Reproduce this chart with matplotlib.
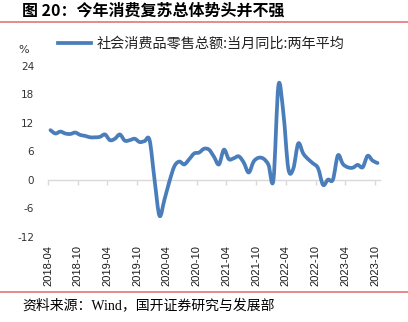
import numpy as np
import matplotlib.pyplot as plt
from matplotlib.path import Path
from matplotlib.patches import PathPatch
from matplotlib.lines import Line2D

plt.rcParams['font.family'] = ['Noto Sans CJK SC', 'DejaVu Sans']

# 社会消费品零售总额:当月同比:两年平均 (%), monthly 2018-04 .. 2023-10
months = []
for yr in range(2018, 2024):
    for mo in range(1, 13):
        if (yr, mo) >= (2018, 4) and (yr, mo) <= (2023, 10):
            months.append(f"{yr}-{mo:02d}")

values = [
    10.4, 9.7, 10.1, 9.7, 9.6, 9.9, 9.4, 9.2, 8.9,            # 2018-04 .. 2018-12
    8.9, 9.0, 9.5, 8.3, 8.6, 9.5, 8.2, 8.3, 8.6, 7.9, 8.1, 8.3,  # 2019
    0.0, -7.6, -4.2, -0.4, 2.8, 3.8, 3.2, 4.3, 5.5, 5.7, 6.5, 6.3,  # 2020
    4.8, 3.2, 6.3, 4.3, 4.5, 4.9, 3.6, 1.5, 3.8, 4.6, 4.4, 3.1,  # 2021
    0.0, 19.8, 14.0, 2.3, 2.3, 7.6, 5.5, 4.3, 3.4, 2.4, -1.1, 0.0,  # 2022
    0.0, 5.1, 3.3, 2.6, 2.5, 3.1, 2.6, 5.0, 4.0, 3.5,            # 2023-01 .. 2023-10
]

series_name = "社会消费品零售总额:当月同比:两年平均"
yticks = [-12, -6, 0, 6, 12, 18, 24]
tick_idx = list(range(0, len(months), 6))
line_color = "#4A7EBB"

fig = plt.figure(figsize=(4.08, 3.22), dpi=100)
ax = fig.add_axes([48 / 408, 1 - 236.7 / 322, 332 / 408, (236.7 - 65.5) / 322])

# smoothed line (cubic bezier through every month, like a spreadsheet "smooth line")
x = np.arange(len(values), dtype=float)
y = np.array(values, dtype=float)
verts = [(x[0], y[0])]
codes = [Path.MOVETO]
for i in range(len(x) - 1):
    p0 = np.array([x[max(i - 1, 0)], y[max(i - 1, 0)]])
    p1 = np.array([x[i], y[i]])
    p2 = np.array([x[i + 1], y[i + 1]])
    p3 = np.array([x[min(i + 2, len(x) - 1)], y[min(i + 2, len(x) - 1)]])
    c1 = p1 + (p2 - p0) / 6
    c2 = p2 - (p3 - p1) / 6
    verts += [tuple(c1), tuple(c2), tuple(p2)]
    codes += [Path.CURVE4] * 3
ax.add_patch(PathPatch(Path(verts, codes), facecolor="none", edgecolor=line_color,
                       lw=2.7, capstyle="round", joinstyle="round", zorder=3))
# legend proxy
ax.plot([], [], color=line_color, lw=2.7, label=series_name)

ax.set_xlim(-0.5, len(values) - 0.5)
ax.set_ylim(-12, 24)
ax.set_yticks(yticks)
ax.set_yticklabels([str(v) for v in yticks], family="DejaVu Sans", fontsize=7.5, color="#333333")
ax.tick_params(axis="y", length=0, pad=10)

for s in ["top", "right", "left"]:
    ax.spines[s].set_visible(False)
ax.spines["bottom"].set_position(("data", 0))
ax.spines["bottom"].set_color("#D9D9D9")
ax.spines["bottom"].set_linewidth(1.0)
ax.set_xticks([i - 0.5 for i in tick_idx])
ax.tick_params(axis="x", length=3.5, width=1.0, color="#D9D9D9", labelbottom=False)

# date labels sit below the plot area
for i in tick_idx:
    ax.annotate(months[i], xy=(i - 0.5, 0), xycoords=("data", "axes fraction"),
                xytext=(0, -6), textcoords="offset points", rotation=90,
                ha="center", va="top", fontsize=8, family="Liberation Sans", color="#1a1a1a")

fig.legend(loc="center left", bbox_to_anchor=(58 / 408, 1 - 44 / 322), frameon=False,
           fontsize=10.2, handlelength=2.3, handletextpad=0.4, borderpad=0, borderaxespad=0,
           labelcolor="#222222")

fig.text(24 / 408, 1 - 50 / 322, "%", fontsize=8, ha="center", va="center",
         family="DejaVu Sans", color="#333333")

fig.text(22 / 408, 1 - 11 / 322, "图 20：今年消费复苏总体势头并不强", fontsize=11.5,
         fontweight="bold", ha="left", va="center")
fig.text(22 / 408, 1 - 305 / 322, "资料来源：Wind，国开证券研究与发展部", fontsize=10,
         family=["Liberation Serif", "Noto Sans CJK SC"], ha="left", va="center")

for yy in (22, 292):
    fig.add_artist(Line2D([0, 1], [1 - yy / 322] * 2, transform=fig.transFigure,
                          color="#E06A6A", lw=1.1))

fig.savefig("out.png", dpi=100)
